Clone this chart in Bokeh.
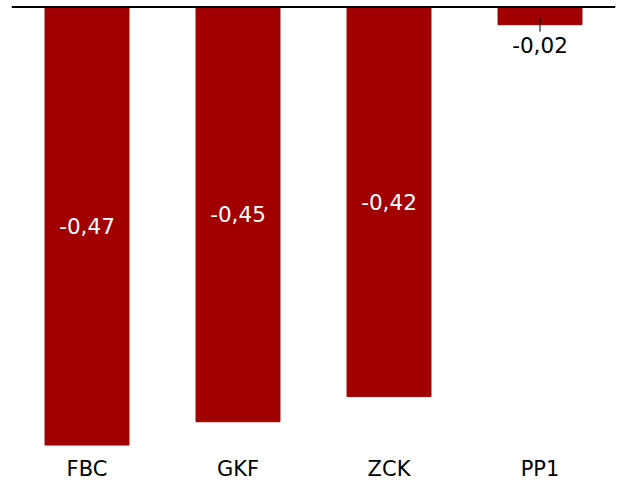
import math
from bokeh.plotting import figure
from bokeh.models import ColumnDataSource, Span, Range1d
from bokeh.core.properties import value
from bokeh.embed import file_html
from bokeh.resources import INLINE

categories = ["FBC", "GKF", "ZCK", "PP1"]
values = [-0.47, -0.445, -0.418, -0.019]
labels = ["-0,47", "-0,45", "-0,42", "-0,02"]

BAR = "#a00000"
FONT = "DejaVu Sans"

inside = [abs(v) > 0.1 for v in values]
src_in = ColumnDataSource(dict(
    x=[c for c, i in zip(categories, inside) if i],
    y=[v / 2 for v, i in zip(values, inside) if i],
    t=[l for l, i in zip(labels, inside) if i],
))
src_out = ColumnDataSource(dict(
    x=[c for c, i in zip(categories, inside) if not i],
    y=[v for v, i in zip(values, inside) if not i],
    t=[l for l, i in zip(labels, inside) if not i],
))

frame_h = 445
px_per_unit = 932
top_pad = 1.5 / px_per_unit
p = figure(x_range=categories, y_range=Range1d(-(frame_h - 1.5) / px_per_unit, top_pad),
           frame_width=604, frame_height=frame_h,
           output_backend="svg", toolbar_location=None,
           min_border_left=11, min_border_right=2, min_border_top=5, min_border_bottom=0)

p.vbar(x=categories, top=0, bottom=values, width=0.556, color=BAR, line_color=BAR)

p.text(x="x", y="y", text="t", source=src_in, text_color="white",
       text_align="center", text_baseline="middle",
       text_font=value(FONT), text_font_size="21.5px")
p.text(x="x", y="y", text="t", source=src_out, text_color="black",
       text_align="center", text_baseline="middle", y_offset=20,
       text_font=value(FONT), text_font_size="21.5px")
p.scatter(x="x", y="y", source=src_out, marker="dash", size=14, angle=math.pi / 2,
          line_color="black", line_width=1)

p.add_layout(Span(location=0, dimension="width", line_color="black", line_width=2))

p.yaxis.visible = False
p.xaxis.axis_line_color = None
p.xaxis.major_tick_line_color = None
p.xaxis.minor_tick_line_color = None
p.xaxis.major_label_standoff = 0
p.xaxis.major_label_text_font = FONT
p.xaxis.major_label_text_font_size = "21px"
p.xaxis.major_label_text_color = "black"
p.xgrid.visible = False
p.ygrid.visible = False
p.outline_line_color = None

open("out.html", "w").write(file_html(p, INLINE))
